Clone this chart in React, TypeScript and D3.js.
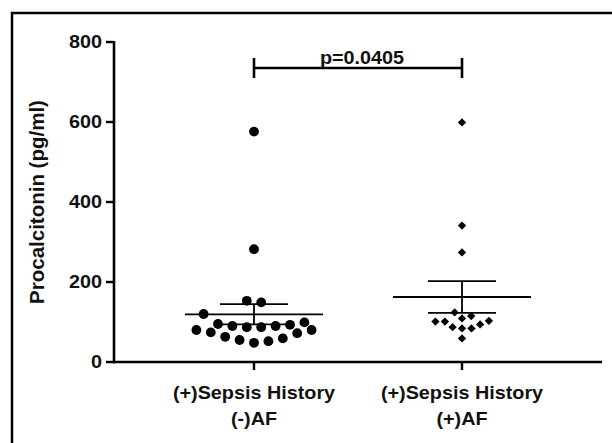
import React from 'react';
import * as d3 from 'd3';

// categories (two text lines each)
const categories = ['noAF', 'AF'];
const categoryLines = [
  ['(+)Sepsis History', '(-)AF'],
  ['(+)Sepsis History', '(+)AF'],
];

// procalcitonin values (pg/ml)
const sepsisNoAF = [576, 282, 149, 153, 120, 95, 90, 87, 87, 90, 93, 99, 80, 74, 63, 55, 48, 52, 59, 72, 80];
const sepsisAF = [599, 341, 274, 124, 109, 94, 101, 84, 101, 84, 103, 87, 115, 59];

const yTicks = [0, 200, 400, 600, 800];
const pLabel = 'p=0.0405';
const yTitle = 'Procalcitonin (pg/ml)';

const W = 612;
const H = 443;
const font = '"Liberation Sans", Arial, Helvetica, sans-serif';

// Prism-like scatter: values grouped into rows, each row spread out from the centre
function rows(values: number[], y: (v: number) => number, gap: number, step: number) {
  const order = d3.range(values.length).sort((a, b) => values[a] - values[b]);
  const xs: number[] = new Array(values.length);
  let row: number[] = [];
  const flush = () => {
    const n = row.length;
    row.forEach((idx, k) => {
      // 0, +1, -1, +2, -2 ... (or half slots when n is even)
      const side = k % 2 === 0 ? 1 : -1;
      const slot = n % 2 === 1 ? Math.ceil(k / 2) * (k % 2 === 1 ? 1 : -1) : (Math.floor(k / 2) + 0.5) * side;
      xs[idx] = slot * step;
    });
    row = [];
  };
  order.forEach((i) => {
    if (row.length && y(values[row[0]]) - y(values[i]) > gap) flush();
    row.push(i);
  });
  flush();
  return xs;
}

// greedy beeswarm: lowest values first, closest free spot to the centre
function swarm(values: number[], y: (v: number) => number, D: number) {
  const order = d3.range(values.length).sort((a, b) => values[a] - values[b]);
  const placed: { x: number; y: number }[] = [];
  const xs: number[] = new Array(values.length);
  order.forEach((i) => {
    const yi = y(values[i]);
    const iv: [number, number][] = [];
    placed.forEach((p) => {
      const dy = Math.abs(p.y - yi);
      if (dy < D) {
        const w = Math.sqrt(D * D - dy * dy);
        iv.push([p.x - w, p.x + w]);
      }
    });
    const cands = [0, ...iv.flatMap((d) => d)];
    const ok = (c: number) => iv.every(([a, b]) => c <= a + 1e-6 || c >= b - 1e-6);
    let best: number | null = null;
    cands.forEach((c) => {
      if (!ok(c)) return;
      if (best === null || Math.abs(c) < Math.abs(best) - 1e-6 || (Math.abs(Math.abs(c) - Math.abs(best)) < 1e-6 && c > best)) best = c;
    });
    xs[i] = best as number;
    placed.push({ x: best as number, y: yi });
  });
  return xs;
}

function Stretch({ x, y, anchor, size, children }: any) {
  // the original figure's lettering is a bit wider than Arial bold
  return (
    <text
      transform={`translate(${x},${y}) scale(1.1,1)`}
      textAnchor={anchor}
      fontSize={size}
      fontWeight="bold"
      fontFamily={font}
      fill="#111"
    >
      {children}
    </text>
  );
}

export default function App() {
  const y = d3.scaleLinear().domain([0, 800]).range([362, 42]);
  const x = d3.scalePoint<string>().domain(categories).range([114, 602]).padding(0.673);

  const groups = [
    { key: categories[0], values: sepsisNoAF, shape: 'circle', xs: rows(sepsisNoAF, y, 14.3, 14.4) },
    { key: categories[1], values: sepsisAF, shape: 'diamond', xs: swarm(sepsisAF, y, 9.5) },
  ];

  const diamond = d3.symbol(d3.symbolDiamond2, 44)();
  const meanHalf = 69;
  const capHalf = 34;

  const x0 = x(categories[0]) as number;
  const x1 = x(categories[1]) as number;
  const bracketY = 68;

  return (
    <svg width={W} height={H} style={{ position: 'absolute', left: 0, top: 0, background: '#fff' }}>
      <rect x={12} y={13} width={800} height={600} fill="#fff" stroke="#000" strokeWidth={2.5} />

      {/* y axis */}
      <line x1={114} x2={114} y1={y(800) - 1} y2={y(0) + 1.2} stroke="#000" strokeWidth={2.6} />
      {yTicks.map((t) => (
        <g key={t}>
          <line x1={106} x2={114} y1={y(t)} y2={y(t)} stroke="#000" strokeWidth={2.4} />
          <Stretch x={102} y={y(t) + 5.5} anchor="end" size={18}>{t}</Stretch>
        </g>
      ))}
      <text
        transform={`translate(44,${(y(0) + y(800)) / 2}) rotate(-90)`}
        textAnchor="middle"
        fontSize={20.5}
        fontWeight="bold"
        fontFamily={font}
        fill="#111"
      >
        {yTitle}
      </text>

      {/* x axis */}
      <line x1={113} x2={602} y1={y(0)} y2={y(0)} stroke="#000" strokeWidth={2.6} />
      {categories.map((c, i) => (
        <g key={c}>
          <line x1={x(c)} x2={x(c)} y1={y(0)} y2={y(0) + 8} stroke="#000" strokeWidth={2.4} />
          <Stretch x={x(c)} y={399} anchor="middle" size={18}>{categoryLines[i][0]}</Stretch>
          <Stretch x={x(c)} y={425} anchor="middle" size={18}>{categoryLines[i][1]}</Stretch>
        </g>
      ))}

      {/* points, mean and SEM */}
      {groups.map((g) => {
        const cx = x(g.key) as number;
        const m = d3.mean(g.values) as number;
        const sem = (d3.deviation(g.values) as number) / Math.sqrt(g.values.length);
        return (
          <g key={g.key}>
            {g.values.map((v, i) =>
              g.shape === 'circle' ? (
                <circle key={i} cx={cx + g.xs[i]} cy={y(v)} r={4.9} fill="#000" />
              ) : (
                <path key={i} d={diamond as string} transform={`translate(${cx + g.xs[i]},${y(v)})`} fill="#000" />
              )
            )}
            <line x1={cx - meanHalf} x2={cx + meanHalf} y1={y(m)} y2={y(m)} stroke="#000" strokeWidth={1.8} />
            <line x1={cx} x2={cx} y1={y(m - sem)} y2={y(m + sem)} stroke="#000" strokeWidth={1.8} />
            <line x1={cx - capHalf} x2={cx + capHalf} y1={y(m + sem)} y2={y(m + sem)} stroke="#000" strokeWidth={1.8} />
            <line x1={cx - capHalf} x2={cx + capHalf} y1={y(m - sem)} y2={y(m - sem)} stroke="#000" strokeWidth={1.8} />
          </g>
        );
      })}

      {/* significance bracket */}
      <line x1={x0} x2={x1} y1={bracketY} y2={bracketY} stroke="#000" strokeWidth={2.6} />
      <line x1={x0} x2={x0} y1={bracketY - 10} y2={bracketY + 10} stroke="#000" strokeWidth={2.6} />
      <line x1={x1} x2={x1} y1={bracketY - 10} y2={bracketY + 10} stroke="#000" strokeWidth={2.6} />
      <Stretch x={(x0 + x1) / 2 + 4} y={64} anchor="middle" size={18}>{pLabel}</Stretch>
    </svg>
  );
}
